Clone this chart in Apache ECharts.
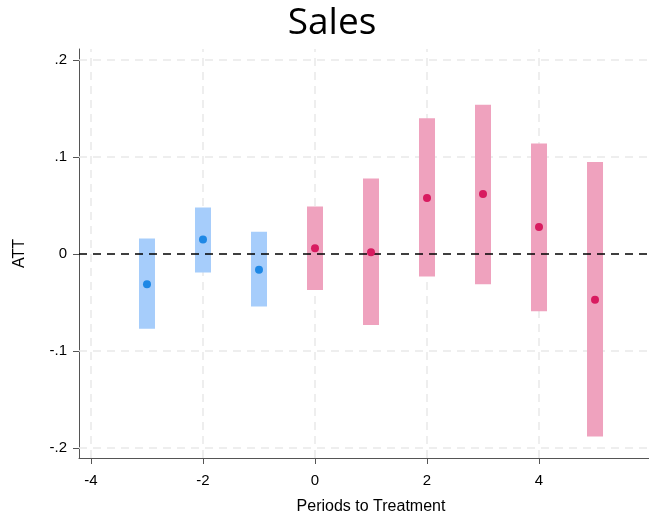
<!DOCTYPE html>
<html>
<head>
<meta charset="utf-8">
<script src="https://cdn.jsdelivr.net/npm/echarts@6/dist/echarts.min.js"></script>
<style>html,body{margin:0;padding:0;background:#fff;}#c{width:649px;height:520px;}</style>
</head>
<body>
<div id="c"></div>
<script>
// Data
const prePeriods = [-3, -2, -1];
const preEst = [-0.031, 0.015, -0.016];
const preLow = [-0.077, -0.019, -0.054];
const preHigh = [0.016, 0.048, 0.023];

const postPeriods = [0, 1, 2, 3, 4, 5];
const postEst = [0.006, 0.002, 0.058, 0.062, 0.028, -0.047];
const postLow = [-0.037, -0.073, -0.023, -0.031, -0.059, -0.188];
const postHigh = [0.049, 0.078, 0.140, 0.154, 0.114, 0.095];

const xTicks = [-4, -2, 0, 2, 4, 6];
const yTicks = [-0.2, -0.1, 0, 0.1, 0.2];

const BLUE = '#1E88E5', BLUE_CI = '#a6cdfb';
const PINK = '#D81B60', PINK_CI = '#efa2be';

function fmtY(v) {
  if (Math.abs(v) < 1e-9) return '0';
  let s = String(Math.round(v * 10) / 10);
  return s.replace('0.', '.');
}

function ciSeries(periods, low, high, color) {
  return {
    type: 'custom',
    silent: true,
    z: 3,
    data: periods.map((p, i) => [p, low[i], high[i]]),
    encode: { x: 0, y: [1, 2] },
    renderItem: function (params, api) {
      const a = api.coord([api.value(0), api.value(1)]);
      const b = api.coord([api.value(0), api.value(2)]);
      const w = 16;
      return {
        type: 'rect',
        shape: { x: a[0] - w / 2, y: b[1], width: w, height: a[1] - b[1] },
        style: { fill: color }
      };
    }
  };
}

const chart = echarts.init(document.getElementById('c'), null, { renderer: 'canvas' });
chart.setOption({
  animation: false,
  backgroundColor: '#fff',
  title: {
    text: 'Sales',
    left: 327, top: 0,
    textAlign: 'center',
    textStyle: { fontFamily: 'Open Sans', fontSize: 37, fontWeight: 'normal', color: '#000' }
  },
  grid: { left: 79, right: 0, top: 49, bottom: 58, containLabel: false },
  xAxis: {
    type: 'value',
    min: -4.214, max: 5.964,
    name: 'Periods to Treatment',
    nameLocation: 'middle',
    nameGap: 41,
    nameTextStyle: { fontFamily: 'Liberation Sans', fontSize: 16, color: '#000', padding: [0, 0, 0, 14] },
    axisLine: { show: true, onZero: false, lineStyle: { color: '#555', width: 1 } },
    axisTick: { show: true, customValues: xTicks, length: 6, lineStyle: { color: '#555' } },
    axisLabel: { customValues: xTicks, margin: 15, fontFamily: 'Liberation Sans', fontSize: 15, color: '#000' },
    splitLine: { show: false }
  },
  yAxis: {
    type: 'value',
    min: -0.2102, max: 0.2115,
    name: 'ATT',
    nameLocation: 'middle',
    nameRotate: 90,
    nameGap: 51,
    nameTextStyle: { fontFamily: 'Liberation Sans', fontSize: 16, color: '#000' },
    axisLine: { show: true, onZero: false, lineStyle: { color: '#555', width: 1 } },
    axisTick: { show: true, customValues: yTicks, length: 6, lineStyle: { color: '#555' } },
    axisLabel: { customValues: yTicks, margin: 12, fontFamily: 'Liberation Sans', fontSize: 15, color: '#000', formatter: fmtY },
    splitLine: { show: false }
  },
  series: [
    {
      type: 'line',
      data: [],
      silent: true,
      z: 1,
      markLine: {
        silent: true,
        z: 1,
        symbol: 'none',
        label: { show: false },
        lineStyle: { color: '#e9e9e9', type: [8, 6], width: 1.5 },
        data: xTicks.filter(v => v < 6).map(v => ({ xAxis: v })).concat(yTicks.filter(v => v !== 0).map(v => ({ yAxis: v })))
      }
    },
    ciSeries(prePeriods, preLow, preHigh, BLUE_CI),
    ciSeries(postPeriods, postLow, postHigh, PINK_CI),
    {
      type: 'line',
      data: [],
      silent: true,
      z: 4,
      markLine: {
        silent: true,
        z: 4,
        symbol: 'none',
        label: { show: false },
        lineStyle: { color: '#000', type: [8, 6], width: 1.5 },
        data: [{ yAxis: 0 }]
      }
    },
    {
      type: 'scatter',
      z: 5,
      symbolSize: 8,
      itemStyle: { color: BLUE, opacity: 1 },
      data: prePeriods.map((p, i) => [p, preEst[i]])
    },
    {
      type: 'scatter',
      z: 5,
      symbolSize: 8,
      itemStyle: { color: PINK, opacity: 1 },
      data: postPeriods.map((p, i) => [p, postEst[i]])
    }
  ]
});
</script>
</body>
</html>
